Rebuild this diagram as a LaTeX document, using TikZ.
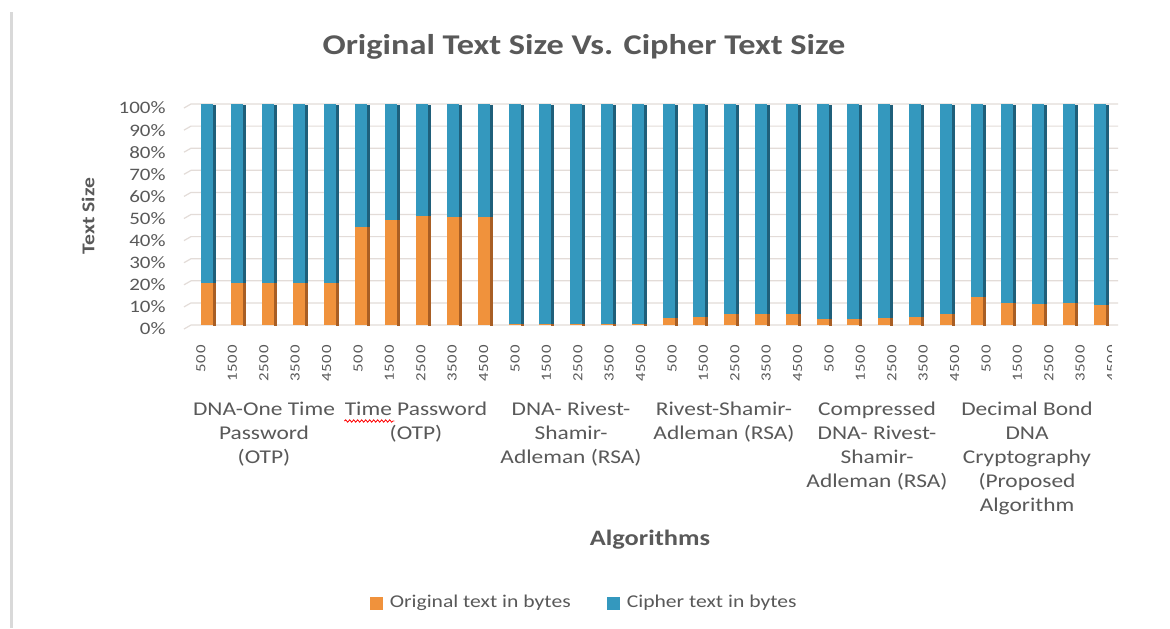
\documentclass[tikz,border=0pt]{standalone}
\usepackage{fontspec}
\setmainfont{Carlito}[FakeStretch=1.2]
\newfontfamily\tickfont{Carlito}[FakeStretch=1.2,LetterSpace=5]
\usetikzlibrary{decorations.pathmorphing}

\definecolor{cipherblue}{HTML}{3498BE}
\definecolor{cipherside}{HTML}{1F5F7A}
\definecolor{origorange}{HTML}{F0923C}
\definecolor{origside}{HTML}{A85E24}
\definecolor{labelgray}{HTML}{595959}
\definecolor{gridgray}{HTML}{E3DCD8}

\begin{document}
\begin{tikzpicture}[x=0.5pt, y=-0.5pt, every node/.style={text=labelgray, inner sep=0pt},
  grouplabel/.style={anchor=north, align=center, font=\fontsize{9.75}{12}\selectfont},
  ticklabel/.style={rotate=90, anchor=east, font=\tickfont\fontsize{7}{8}\selectfont},
  ylabel/.style={anchor=east, font=\fontsize{8.75}{10}\selectfont},
  keybox/.style={minimum size=6.5pt}]

\useasboundingbox (0,0) rectangle (1170,628);
\fill[white] (0,0) rectangle (1170,628);
\draw[line width=1.5pt, gray!30] (11,12) -- (11,628);

\node[font=\bfseries\fontsize{14.3}{17}\selectfont, anchor=base] (title) at (584,54) {Original Text Size Vs. Cipher Text Size};

% grid and percent labels, 10% = 22.1 units
\foreach \p in {0,10,...,100} {
  \draw[gridgray, line width=0.6pt] (184,325-2.21*\p+4) -- (191,325-2.21*\p) -- (1118,325-2.21*\p);
  \node[ylabel] (y\p) at (166,329-2.21*\p) {\p\%};
}

% stacked bars: share of original text, rest is cipher text
\foreach \v [count=\i from 0] in {19,19,19,19,19, 44.5,47.5,49.5,49,49, 0.6,0.6,0.6,0.6,0.6,
                                 3,3.5,5,5,5, 2.6,2.6,3,3.8,5, 12.8,10,9.5,9.8,9} {
  \pgfmathsetmacro{\cx}{208+30.8*\i}
  \pgfmathsetmacro{\ytop}{325-2.21*\v}
  \fill[cipherblue] (\cx-7.5,104) rectangle (\cx+4.5,\ytop);
  \fill[cipherside] (\cx+4.5,105) rectangle (\cx+7.5,\ytop);
  \fill[origorange] (\cx-7.5,\ytop) rectangle (\cx+4.5,325);
  \fill[origside] (\cx+4.5,\ytop) rectangle (\cx+7.5,326);
}

\begin{scope}
\clip (150,330) rectangle (1111,400);
\foreach \s [count=\i from 0] in {500,1500,2500,3500,4500, 500,1500,2500,3500,4500,
                                  500,1500,2500,3500,4500, 500,1500,2500,3500,4500,
                                  500,1500,2500,3500,4500, 500,1500,2500,3500,4500}
  \node[ticklabel] (t\i) at (201+31.4*\i,345) {\s};
\end{scope}

\node[grouplabel] (dnaotp) at (264,402) {DNA-One Time\\Password\\(OTP)};
\node[grouplabel] (otp) at (416,402) {Time Password\\(OTP)};
\node[grouplabel] (dnarsa) at (571,402) {DNA- Rivest-\\Shamir-\\Adleman (RSA)};
\node[grouplabel] (rsa) at (724,402) {Rivest-Shamir-\\Adleman (RSA)};
\node[grouplabel] (cdnarsa) at (877,402) {Compressed\\DNA- Rivest-\\Shamir-\\Adleman (RSA)};
\node[grouplabel] (dbdna) at (1027,402) {Decimal Bond\\DNA\\Cryptography\\(Proposed\\Algorithm};
\draw[red, line width=0.4pt, decorate, decoration={snake, amplitude=0.6pt, segment length=2pt}]
  ([yshift=-9.5pt]otp.north west) -- ([xshift=25pt,yshift=-9.5pt]otp.north west);

\node[font=\bfseries\fontsize{11}{13}\selectfont] (xtitle) at (650,540) {Algorithms};
\node[rotate=90, font=\bfseries\fontsize{9}{11}\selectfont] (ytitle) at (88,216) {Text Size};

% legend
\node[keybox, fill=origorange] (keyorig) at (376.5,603) {};
\node[anchor=west, font=\fontsize{9}{11}\selectfont] (origtext) at ([xshift=3pt]keyorig.east) {Original text in bytes};
\node[keybox, fill=cipherblue] (keyciph) at (613.5,603) {};
\node[anchor=west, font=\fontsize{9}{11}\selectfont] (ciphtext) at ([xshift=3pt]keyciph.east) {Cipher text in bytes};

\end{tikzpicture}
\end{document}
